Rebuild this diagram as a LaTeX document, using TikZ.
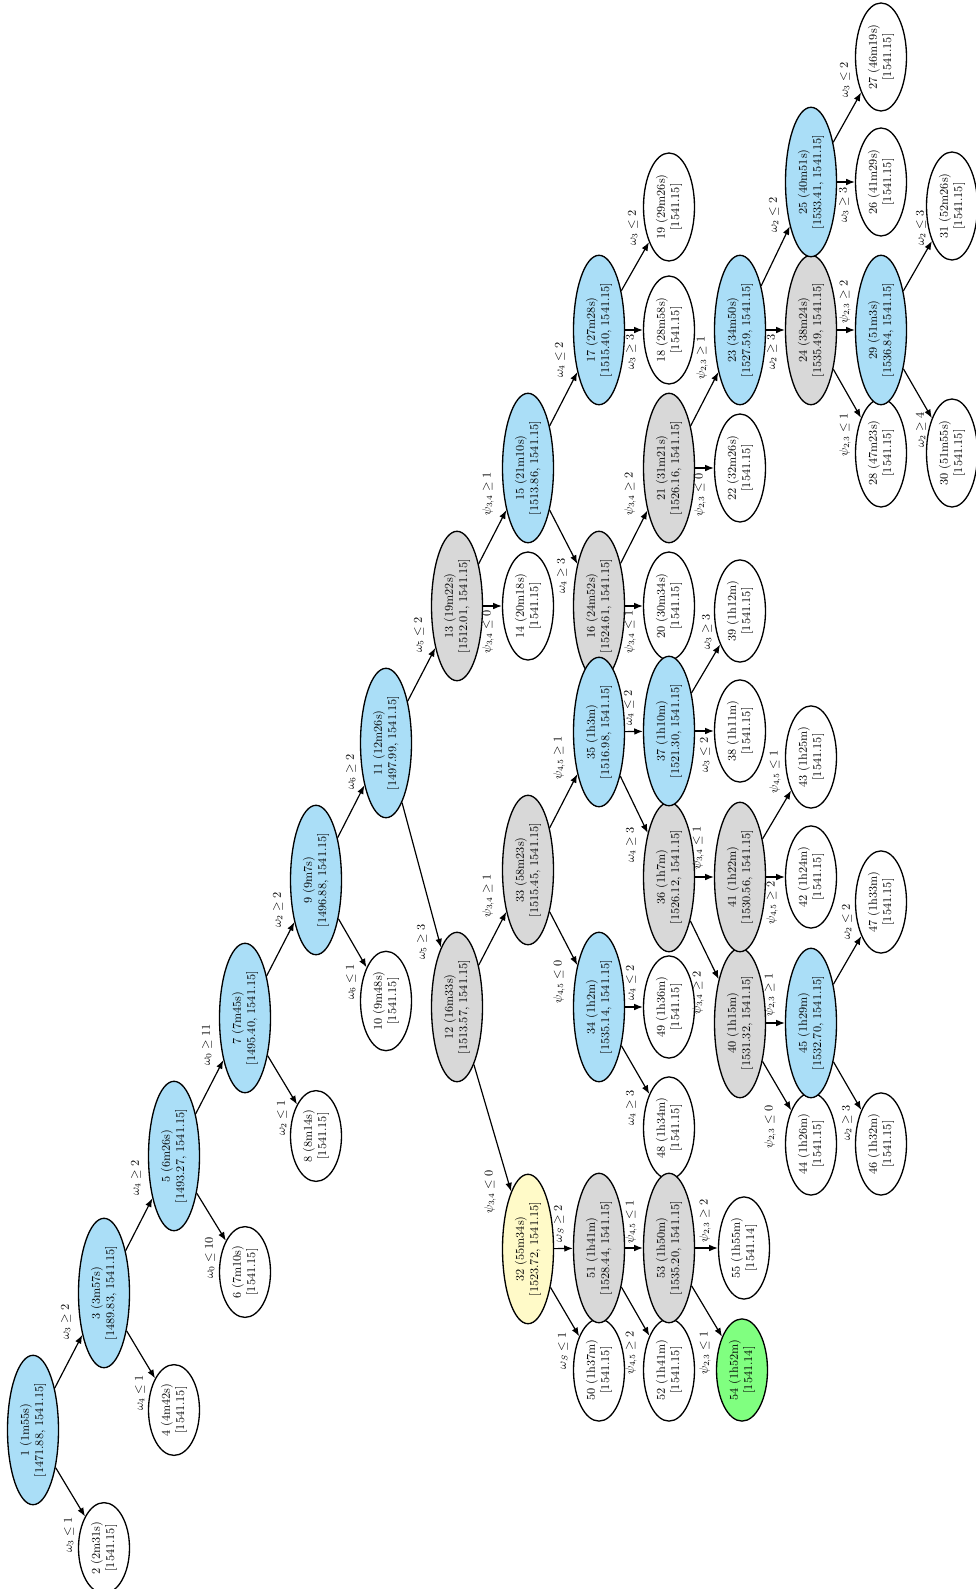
\documentclass[tikz,border=0pt]{standalone}
\usetikzlibrary{shapes.geometric,arrows.meta}
\definecolor{nblue}{RGB}{170,222,247}
\definecolor{ngray}{RGB}{216,216,216}
\definecolor{nyellow}{RGB}{255,250,200}
\definecolor{ngreen}{RGB}{128,255,128}
\begin{document}
\begin{tikzpicture}[x=0.755pt,y=-0.755pt,
  font=\fontsize{9}{10.8}\selectfont,
  nd/.style={ellipse,draw,line width=1pt,rotate=90,align=center,inner xsep=4.15pt,inner ysep=0pt,minimum height=38.5pt,fill=white},
  bl/.style={nd,fill=nblue},
  gr/.style={nd,fill=ngray},
  ye/.style={nd,fill=nyellow},
  gn/.style={nd,fill=ngreen},
  edge/.style={line width=0.9pt,-{Latex[length=6.5pt,width=5pt]}},
  lbl/.style={rotate=90,inner sep=0pt}]
\useasboundingbox (0,0) rectangle (976,1589);
% nodes
\node[bl] (n1) at (33,1430) {1 (1m55s)\\{[1471.88, 1541.15]}};
\node[nd] (n2) at (104,1548) {2 (2m31s)\\{[1541.15]}};
\node[bl] (n3) at (104,1293) {3 (3m57s)\\{[1489.83, 1541.15]}};
\node[nd] (n4) at (174,1410) {4 (4m42s)\\{[1541.15]}};
\node[bl] (n5) at (174,1156) {5 (6m26s)\\{[1493.27, 1541.15]}};
\node[nd] (n6) at (245,1272) {6 (7m10s)\\{[1541.15]}};
\node[bl] (n7) at (245,1018) {7 (7m45s)\\{[1495.40, 1541.15]}};
\node[nd] (n8) at (316,1136) {8 (8m14s)\\{[1541.15]}};
\node[bl] (n9) at (316,880) {9 (9m7s)\\{[1496.88, 1541.15]}};
\node[nd] (n10) at (386,1001) {10 (9m48s)\\{[1541.15]}};
\node[bl] (n11) at (386,743) {11 (12m26s)\\{[1497.99, 1541.15]}};
\node[gr] (n12) at (457,1007) {12 (16m33s)\\{[1513.57, 1541.15]}};
\node[gr] (n13) at (457,606) {13 (19m22s)\\{[1512.01, 1541.15]}};
\node[nd] (n14) at (528,606) {14 (20m18s)\\{[1541.15]}};
\node[bl] (n15) at (528,468) {15 (21m10s)\\{[1513.86, 1541.15]}};
\node[gr] (n33) at (528,870) {33 (58m23s)\\{[1515.45, 1541.15]}};
\node[ye] (n32) at (528,1249) {32 (55m34s)\\{[1523.72, 1541.15]}};
\node[gr] (n16) at (599,606) {16 (24m52s)\\{[1524.61, 1541.15]}};
\node[bl] (n17) at (599,330) {17 (27m28s)\\{[1515.40, 1541.15]}};
\node[bl] (n34) at (599,1007) {34 (1h2m)\\{[1535.14, 1541.15]}};
\node[bl] (n35) at (599,732) {35 (1h3m)\\{[1516.98, 1541.15]}};
\node[nd] (n50) at (599,1370) {50 (1h37m)\\{[1541.15]}};
\node[gr] (n51) at (599,1248) {51 (1h41m)\\{[1528.44, 1541.15]}};
\node[nd] (n18) at (669,330) {18 (28m58s)\\{[1541.15]}};
\node[nd] (n19) at (669,207) {19 (29m26s)\\{[1541.15]}};
\node[nd] (n20) at (669,606) {20 (30m34s)\\{[1541.15]}};
\node[gr] (n21) at (669,468) {21 (31m21s)\\{[1526.16, 1541.15]}};
\node[gr] (n36) at (669,877) {36 (1h7m)\\{[1526.12, 1541.15]}};
\node[bl] (n37) at (669,731) {37 (1h10m)\\{[1521.30, 1541.15]}};
\node[nd] (n48) at (669,1128) {48 (1h34m)\\{[1541.15]}};
\node[nd] (n49) at (669,1007) {49 (1h36m)\\{[1541.15]}};
\node[nd] (n52) at (669,1370) {52 (1h41m)\\{[1541.15]}};
\node[gr] (n53) at (669,1248) {53 (1h50m)\\{[1535.20, 1541.15]}};
\node[nd] (n22) at (740,468) {22 (32m26s)\\{[1541.15]}};
\node[bl] (n23) at (740,330) {23 (34m50s)\\{[1527.59, 1541.15]}};
\node[nd] (n38) at (740,731) {38 (1h11m)\\{[1541.15]}};
\node[nd] (n39) at (740,611) {39 (1h12m)\\{[1541.15]}};
\node[gr] (n40) at (740,1023) {40 (1h15m)\\{[1531.32, 1541.15]}};
\node[gr] (n41) at (740,877) {41 (1h22m)\\{[1530.56, 1541.15]}};
\node[gn] (n54) at (742,1370) {54 (1h52m)\\{[1541.14]}};
\node[nd] (n55) at (744,1248) {55 (1h55m)\\{[1541.14]}};
\node[gr] (n24) at (811,330) {24 (38m24s)\\{[1535.49, 1541.15]}};
\node[bl] (n25) at (811,182) {25 (40m51s)\\{[1533.41, 1541.15]}};
\node[nd] (n42) at (811,877) {42 (1h24m)\\{[1541.15]}};
\node[nd] (n43) at (811,757) {43 (1h25m)\\{[1541.15]}};
\node[nd] (n44) at (811,1144) {44 (1h26m)\\{[1541.15]}};
\node[bl] (n45) at (811,1023) {45 (1h29m)\\{[1532.70, 1541.15]}};
\node[nd] (n26) at (881,182) {26 (41m29s)\\{[1541.15]}};
\node[nd] (n27) at (881,57) {27 (46m19s)\\{[1541.15]}};
\node[nd] (n28) at (881,453) {28 (47m23s)\\{[1541.15]}};
\node[bl] (n29) at (881,330) {29 (51m3s)\\{[1536.84, 1541.15]}};
\node[nd] (n46) at (881,1144) {46 (1h32m)\\{[1541.15]}};
\node[nd] (n47) at (881,902) {47 (1h33m)\\{[1541.15]}};
\node[nd] (n30) at (952,453) {30 (51m55s)\\{[1541.15]}};
\node[nd] (n31) at (952,206) {31 (52m26s)\\{[1541.15]}};
% edges
\draw[edge] (n1) -- (n2) node[lbl] (l2) at (69,1535) {$\omega_3\leq 1$};
\draw[edge] (n1) -- (n3) node[lbl] (l3) at (66,1322) {$\omega_3\geq 2$};
\draw[edge] (n3) -- (n4) node[lbl] (l4) at (140,1393) {$\omega_4\leq 1$};
\draw[edge] (n3) -- (n5) node[lbl] (l5) at (136,1178) {$\omega_4\geq 2$};
\draw[edge] (n5) -- (n6) node[lbl] (l6) at (210,1258) {$\omega_0\leq 10$};
\draw[edge] (n5) -- (n7) node[lbl] (l7) at (207,1045) {$\omega_0\geq 11$};
\draw[edge] (n7) -- (n8) node[lbl] (l8) at (282,1118) {$\omega_2\leq 1$};
\draw[edge] (n7) -- (n9) node[lbl] (l9) at (278,910) {$\omega_2\geq 2$};
\draw[edge] (n9) -- (n10) node[lbl] (l10) at (351,982) {$\omega_6\leq 1$};
\draw[edge] (n9) -- (n11) node[lbl] (l11) at (351,772) {$\omega_6\geq 2$};
\draw[edge] (n11) -- (n12) node[lbl] (l12) at (422,942) {$\omega_5\geq 3$};
\draw[edge] (n11) -- (n13) node[lbl] (l13) at (419,635) {$\omega_5\leq 2$};
\draw[edge] (n12) -- (n33) node[lbl] (l33) at (488,896) {$\psi_{3,4}\geq 1$};
\draw[edge] (n12) -- (n32) node[lbl] (l32) at (490,1192) {$\psi_{3,4}\leq 0$};
\draw[edge] (n13) -- (n14) node[lbl] (l14) at (488,632) {$\psi_{3,4}\leq 0$};
\draw[edge] (n13) -- (n15) node[lbl] (l15) at (488,494) {$\psi_{3,4}\geq 1$};
\draw[edge] (n15) -- (n16) node[lbl] (l16) at (562,576) {$\omega_4\geq 3$};
\draw[edge] (n15) -- (n17) node[lbl] (l17) at (560,360) {$\omega_4\leq 2$};
\draw[edge] (n17) -- (n18) node[lbl] (l18) at (631,352) {$\omega_3\geq 3$};
\draw[edge] (n17) -- (n19) node[lbl] (l19) at (633,228) {$\omega_3\leq 2$};
\draw[edge] (n16) -- (n20) node[lbl] (l20) at (630,632) {$\psi_{3,4}\leq 1$};
\draw[edge] (n16) -- (n21) node[lbl] (l21) at (630,494) {$\psi_{3,4}\geq 2$};
\draw[edge] (n21) -- (n22) node[lbl] (l22) at (700,495) {$\psi_{2,3}\leq 0$};
\draw[edge] (n21) -- (n23) node[lbl] (l23) at (702,358) {$\psi_{2,3}\geq 1$};
\draw[edge] (n23) -- (n24) node[lbl] (l24) at (772,352) {$\omega_2\geq 3$};
\draw[edge] (n23) -- (n25) node[lbl] (l25) at (774,215) {$\omega_2\leq 2$};
\draw[edge] (n25) -- (n26) node[lbl] (l26) at (844,205) {$\omega_3\geq 3$};
\draw[edge] (n25) -- (n27) node[lbl] (l27) at (845,80) {$\omega_3\leq 2$};
\draw[edge] (n24) -- (n29) node[lbl] (l29) at (845,302) {$\psi_{2,3}\geq 2$};
\draw[edge] (n24) -- (n28) node[lbl] (l28) at (845,435) {$\psi_{2,3}\leq 1$};
\draw[edge] (n29) -- (n30) node[lbl] (l30) at (921,430) {$\omega_2\geq 4$};
\draw[edge] (n29) -- (n31) node[lbl] (l31) at (921,228) {$\omega_2\leq 3$};
\draw[edge] (n33) -- (n35) node[lbl] (l35) at (559,758) {$\psi_{4,5}\geq 1$};
\draw[edge] (n33) -- (n34) node[lbl] (l34) at (559,982) {$\psi_{4,5}\leq 0$};
\draw[edge] (n35) -- (n37) node[lbl] (l37) at (629,708) {$\omega_4\leq 2$};
\draw[edge] (n35) -- (n36) node[lbl] (l36) at (631,845) {$\omega_4\geq 3$};
\draw[edge] (n37) -- (n38) node[lbl] (l38) at (705,755) {$\omega_3\leq 2$};
\draw[edge] (n37) -- (n39) node[lbl] (l39) at (707,632) {$\omega_3\geq 3$};
\draw[edge] (n36) -- (n41) node[lbl] (l41) at (698,848) {$\psi_{3,4}\leq 1$};
\draw[edge] (n36) -- (n40) node[lbl] (l40) at (698,993) {$\psi_{3,4}\geq 2$};
\draw[edge] (n41) -- (n42) node[lbl] (l42) at (772,903) {$\psi_{4,5}\geq 2$};
\draw[edge] (n41) -- (n43) node[lbl] (l43) at (775,772) {$\psi_{4,5}\leq 1$};
\draw[edge] (n40) -- (n45) node[lbl] (l45) at (770,995) {$\psi_{2,3}\geq 1$};
\draw[edge] (n40) -- (n44) node[lbl] (l44) at (770,1127) {$\psi_{2,3}\leq 0$};
\draw[edge] (n45) -- (n47) node[lbl] (l47) at (847,922) {$\omega_2\leq 2$};
\draw[edge] (n45) -- (n46) node[lbl] (l46) at (847,1123) {$\omega_2\geq 3$};
\draw[edge] (n34) -- (n49) node[lbl] (l49) at (631,983) {$\omega_4\leq 2$};
\draw[edge] (n34) -- (n48) node[lbl] (l48) at (631,1108) {$\omega_4\geq 3$};
\draw[edge] (n32) -- (n51) node[lbl] (l51) at (559,1224) {$\omega_S\geq 2$};
\draw[edge] (n32) -- (n50) node[lbl] (l50) at (563,1351) {$\omega_S\leq 1$};
\draw[edge] (n51) -- (n53) node[lbl] (l53) at (631,1222) {$\psi_{4,5}\leq 1$};
\draw[edge] (n51) -- (n52) node[lbl] (l52) at (631,1353) {$\psi_{4,5}\geq 2$};
\draw[edge] (n53) -- (n55) node[lbl] (l55) at (705,1221) {$\psi_{2,3}\geq 2$};
\draw[edge] (n53) -- (n54) node[lbl] (l54) at (705,1353) {$\psi_{2,3}\leq 1$};
\end{tikzpicture}
\end{document}
